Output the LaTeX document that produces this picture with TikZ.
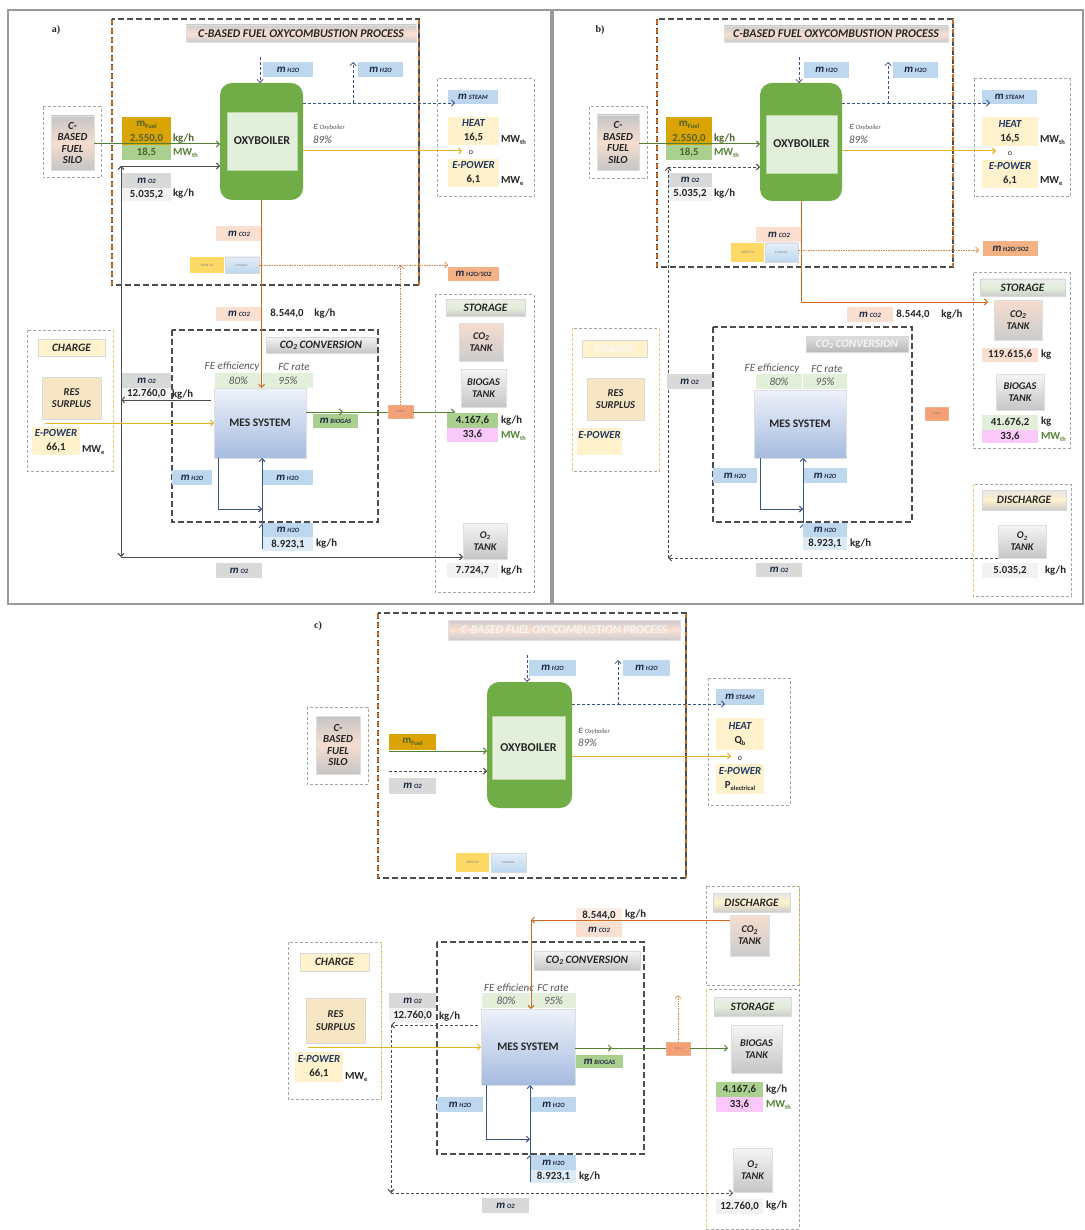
\documentclass[tikz,border=0pt]{standalone}
\usepackage{fontspec}
\setmainfont{Carlito}
\newfontfamily\serf{Liberation Serif}
\usetikzlibrary{arrows.meta}
\definecolor{bgreen}{HTML}{70AD47}
\definecolor{lgreen}{HTML}{E2EFDA}
\definecolor{vgreen}{HTML}{A9D08E}
\definecolor{lblue}{HTML}{BDD7EE}
\definecolor{llblue}{HTML}{DDEBF7}
\definecolor{gold}{HTML}{D9A404}
\definecolor{lgray}{HTML}{D9D9D9}
\definecolor{llgray}{HTML}{F2F2F2}
\definecolor{salm}{HTML}{FBE0D2}
\definecolor{orng}{HTML}{F4B183}
\definecolor{lyel}{HTML}{FFF2CC}
\definecolor{pnk}{HTML}{FBC8FB}
\definecolor{oarr}{HTML}{D2691E}
\definecolor{yarr}{HTML}{E6B422}
\definecolor{garr}{HTML}{548235}
\definecolor{barr}{HTML}{3B5488}
\definecolor{navy}{HTML}{1F3864}
\definecolor{ymem}{HTML}{FFD966}
\definecolor{olv}{HTML}{4F6228}
\definecolor{mtxt}{HTML}{1F2A44}
\definecolor{peach}{HTML}{F6DDCF}
\definecolor{resc}{HTML}{F7E6C4}
\definecolor{mestop}{HTML}{EEF2FA}
\definecolor{mesbot}{HTML}{A6BBE0}
\newcommand\bxx[7]{\node[#6,minimum width={(#4)-(#2)},minimum height={(#5)-(#3)}] (#1) at ({((#2)+(#4))/2},{((#3)+(#5))/2}) {#7};}
\newcommand\sbs[1]{\raisebox{-1.5pt}{\fontsize{6.5}{7}\selectfont #1}}
\newcommand\mlab[1]{{\color{mtxt}{\fontsize{11}{11}\selectfont\itshape m}\,{\fontsize{6.5}{7}\selectfont\itshape #1}}}
\newcommand\hd[1]{{\color{navy}\itshape #1}}
\newcommand\ctwo{CO\raisebox{-1.3pt}{\fontsize{7.5}{8}\selectfont 2}}
\begin{document}
\begin{tikzpicture}[x=1pt,y=-1pt,
 every node/.style={inner sep=0pt,outer sep=0pt,align=center,font=\fontsize{10.8}{12}\selectfont\bfseries,text=black!85},
 ar/.style={-{Straight Barb[length=3pt,width=6pt]}},
 frame/.style={draw=gray!80,line width=1.4pt},
 dbox/.style={draw=black!70,line width=1.1pt,dash pattern=on 6pt off 3pt},
 obox/.style={draw=oarr,line width=1.1pt,dash pattern=on 4pt off 5pt,dash phase=-1pt},
 gbox/.style={draw=gray!70,line width=1pt,dash pattern=on 3pt off 2pt},
 ydash/.style={draw=yarr!70,line width=0.8pt,dash pattern=on 3pt off 2pt},
 gline/.style={draw=gray!60!black,line width=0.9pt},
 gdash/.style={gline,dash pattern=on 3pt off 2pt},
 oline/.style={draw=oarr,line width=1pt},
 odot/.style={draw=oarr!80,line width=0.7pt,dash pattern=on 1.5pt off 1pt},
 yline/.style={draw=yarr,line width=1pt},
 grline/.style={draw=garr,line width=1pt},
 bline/.style={draw=barr,line width=1pt},
 sdash/.style={draw=barr,line width=0.8pt,dash pattern=on 3pt off 2pt},
 ttl/.style={top color=gray!40,bottom color=gray!40,middle color=salm,draw=gray!25,font=\fontsize{11.8}{13}\selectfont\bfseries\itshape},
 ttlf/.style={ttl,text=white!92!gray},
 boil/.style={fill=bgreen,rounded corners=12pt},
 binner/.style={fill=lgreen,draw=bgreen!50,font=\fontsize{12}{14}\selectfont\bfseries},
 lb/.style={fill=lblue},
 yb/.style={fill=lyel},
 silo/.style={top color=gray!45,bottom color=gray!45,middle color=peach,draw=gray!25,font=\fontsize{10.8}{11.6}\selectfont\bfseries\itshape},
 tank/.style={top color=gray!8,bottom color=gray!45,draw=gray!25,font=\fontsize{10.3}{12}\selectfont\bfseries\itshape},
 tankp/.style={top color=peach,bottom color=gray!40,draw=gray!25,font=\fontsize{10.3}{12}\selectfont\bfseries\itshape},
 mes/.style={top color=mestop,bottom color=mesbot,draw=gray!25,font=\fontsize{11.5}{13}\selectfont\bfseries},
 res/.style={fill=resc,draw=gray!30,font=\fontsize{10.5}{12.5}\selectfont\bfseries\itshape},
 chb/.style={fill=lyel,draw=gray!30,font=\fontsize{11.3}{12}\selectfont\bfseries\itshape},
 chbf/.style={chb,text=white!95!gray},
 sttl/.style={top color=gray!15,bottom color=gray!40,middle color=lgreen,draw=gray!30,font=\fontsize{11.3}{12}\selectfont\bfseries\itshape},
 dttl/.style={top color=gray!20,bottom color=gray!40,middle color=lyel,draw=gray!30,font=\fontsize{11.3}{12}\selectfont\bfseries\itshape},
 ctl/.style={top color=gray!8,bottom color=gray!45,draw=gray!30,font=\fontsize{11.3}{12}\selectfont\bfseries\itshape},
 ctlf/.style={ctl,top color=gray!25,bottom color=gray!55,text=white!92!gray},
 memb/.style={fill=ymem,font=\fontsize{3.5}{4}\selectfont,text=gray},
 conb/.style={top color=lblue!40,bottom color=lblue,draw=gray!30,font=\fontsize{3.5}{4}\selectfont,text=gray},
 desb/.style={fill=orng!90!red,draw=oarr!50,font=\fontsize{3}{3.5}\selectfont,text=gray},
 pct/.style={fill=lgreen,font=\fontsize{11}{12}\selectfont\itshape,text=gray!70!black},
 gi/.style={font=\fontsize{11}{12}\selectfont\itshape,text=gray!70!black},
 eps/.style={anchor=west,font=\fontsize{11}{12}\selectfont\itshape,text=gray!70!black},
 plab/.style={font=\serf\fontsize{10}{11}\selectfont\bfseries},
 small/.style={font=\fontsize{8}{9}\selectfont}
]
\useasboundingbox (0,0) rectangle (1084,1230);
\fill[white] (0,0) rectangle (1084,1230);

% ================= PANEL A =================
\draw[frame] (8,10) rectangle (551,604);
\node[plab] (pa) at (56,30) {a)};
\draw[dbox] (112,19) rectangle (419,285);
\draw[obox] (112,19) -- (112,285) (419,19) -- (419,285);
\bxx{tia}{186}{25}{416}{42}{ttl}{C-BASED FUEL OXYCOMBUSTION PROCESS}
\bxx{boa}{220}{83}{303}{200}{boil}{}
\bxx{bia}{227}{112}{297}{170}{binner}{OXYBOILER}
\bxx{hwa1}{263}{62}{313}{77}{lb}{\mlab{H2O}}
\bxx{hwa2}{358}{62}{403}{77}{lb}{\mlab{H2O}}
\coordinate (hina) at (260,57);
\draw[sdash,ar] (hina) -- (hina |- boa.north);
\coordinate (hsa) at (353,103);
\draw[sdash,ar] (boa.east |- hsa) -- (hsa) -- (hsa |- hwa2.north);
\draw[gbox] (437,79) rectangle (534,197);
\bxx{stma}{448}{90}{498}{104}{lb}{\mlab{STEAM}}
\coordinate (stea) at (455,103);
\draw[sdash,ar] (hsa) -- (stea);
\bxx{hta}{448}{117}{499}{145}{yb}{\hd{HEAT}\\[2pt]16,5}
\node[anchor=west] (mwa1) at (501,140) {MW\sbs{th}};
\node[small] (oa) at (471,153) {o};
\bxx{epa}{448}{159}{499}{187}{yb}{\hd{E-POWER}\\[2pt]6,1}
\node[anchor=west] (mwa2) at (501,181) {MW\sbs{e}};
\coordinate (yea) at (462,151);
\draw[yline,ar] (boa.east |- yea) -- (yea);
\node[eps] (epsa) at (313,127) {ε\,{\fontsize{6.5}{7}\selectfont Oxyboiler}};
\node[eps] (eta) at (313,140) {89\%};
\draw[gbox] (43,107) rectangle (101,178);
\bxx{sila}{51}{116}{94}{170}{silo}{C-\\BASED\\FUEL\\SILO}
\bxx{fua}{122}{117}{171}{145}{fill=gold}{}
\node[text=olv] (fuat) at (146.5,125) {\fontsize{11}{12}\selectfont m\sbs{Fuel}};
\node[text=olv] (fuav) at (146.5,139) {2.550,0};
\bxx{fub}{122}{145}{171}{160}{fill=vgreen}{\color{olv}18,5}
\node[anchor=west,text=olv] (kga1) at (173,139) {kg/h};
\node[anchor=west,text=garr] (mwa0) at (173,153) {MW\sbs{th}};
\coordinate (fya) at (100,144);
\draw[grline,ar] (sila.east |- fya) -- (boa.west |- fya);
\bxx{oxa1}{122}{173}{171}{188}{fill=lgray}{\mlab{O2}}
\bxx{oxa2}{122}{188}{171}{201}{fill=llgray}{5.035,2}
\node[anchor=west] (kga2) at (173,194) {kg/h};
\bxx{coa1}{216}{226}{262}{241}{fill=salm}{\mlab{CO2}}
\bxx{mema}{190}{257}{224}{273}{memb}{MEM O2}
\bxx{cona}{225}{257}{259}{273}{conb}{Condens.}
\bxx{hsoa}{448}{267}{499}{281}{fill=orng}{\mlab{H2O/SO2}}
\draw[odot,ar] (cona.east) -- (hsoa.west |- cona.east);
\bxx{coa2}{216}{307}{262}{321}{fill=salm}{\mlab{CO2}}
\node (vca) at (287,314) {8.544,0};
\node (kga3) at (325,314) {kg/h};
\draw[dbox] (172,330) rectangle (378,522);
\bxx{cca}{266}{337}{376}{353}{ctl}{\ctwo\ CONVERSION}
\node[gi] (fela) at (232,367) {FE efficiency};
\bxx{fea}{215}{373}{262}{388}{pct}{80\%}
\node[gi] (fcla) at (294,367) {FC rate};
\bxx{fca}{263}{373}{313}{388}{pct}{95\%}
\bxx{mesa}{214}{388}{306}{458}{mes}{MES SYSTEM}
\draw[oline,ar] (boa.south) -- (boa.south |- mesa.north);
\bxx{bga}{313}{414}{358}{428}{fill=vgreen}{\mlab{BIOGAS}}
\bxx{desa}{388}{405}{413}{418}{desb}{DeSOx}
\coordinate (bma) at (343,412);
\coordinate (bea) at (455,412);
\draw[grline,ar] (mesa.east |- bma) -- (bma);
\draw[grline] (bma) -- (desa.west |- bma);
\draw[grline,ar] (desa.east |- bea) -- (bea);
\draw[odot,ar] (desa.north) -- (desa.north |- cona.east);
\bxx{hwa3}{172}{470}{212}{485}{lb}{\mlab{H2O}}
\bxx{hwa4}{262}{470}{313}{485}{lb}{\mlab{H2O}}
\coordinate (hla) at (218,509);
\coordinate (hba) at (262,549);
\coordinate (hma) at (262,524);
\draw[bline,ar] (hla |- mesa.south) -- (hla) -- (hba |- hla);
\draw[bline,ar] (hba) -- (hma);
\draw[bline,ar] (hma) -- (hma |- mesa.south);
\bxx{hwa5}{263}{523}{313}{537}{lb}{\mlab{H2O}}
\bxx{hwa6}{263}{537}{313}{551}{fill=llblue}{8.923,1}
\node[anchor=west] (kga4) at (316,544) {kg/h};
\draw[gbox] (435,295) rectangle (534,592);
\bxx{sta}{446}{299}{525}{316}{sttl}{STORAGE}
\bxx{ctka}{459}{323}{503}{361}{tankp}{\ctwo\\TANK}
\bxx{btka}{461}{369}{506}{407}{tank}{BIOGAS\\TANK}
\bxx{v1a}{447}{413}{498}{428}{fill=vgreen}{4.167,6}
\node[anchor=west] (kga5) at (501,421) {kg/h};
\bxx{v2a}{447}{428}{498}{442}{fill=pnk}{33,6}
\node[anchor=west,text=garr] (mwa3) at (501,436) {MW\sbs{th}};
\bxx{otka}{463}{523}{507}{559}{tank}{O\sbs{2}\\TANK}
\bxx{v3a}{447}{563}{498}{578}{fill=llgray}{7.724,7}
\node[anchor=west] (kga6) at (501,571) {kg/h};
\bxx{oxa3}{122}{373}{171}{388}{fill=lgray}{\mlab{O2}}
\bxx{oxa4}{122}{388}{171}{400}{fill=llgray}{12.760,0}
\node[anchor=west] (kga7) at (172,395) {kg/h};
\coordinate (oja) at (121,400);
\coordinate (otpa) at (121,166);
\coordinate (obta) at (121,557);
\draw[gline,ar] ([xshift=-3pt]mesa.west |- oja) -- (oja);
\draw[gline,ar] (oja) -- (otpa);
\draw[gline,ar] (otpa) -- (boa.west |- otpa);
\draw[gline,ar] (oja) -- (obta);
\draw[gline,ar] (obta) -- (otka.west |- obta);
\bxx{oxa5}{216}{563}{262}{578}{fill=lgray}{\mlab{O2}}
\draw[gbox] (27,330) rectangle (113,471);
\draw[ydash] (113,330) -- (113,471);
\bxx{cha}{38}{339}{105}{356}{chb}{CHARGE}
\bxx{resa}{42}{377}{101}{419}{res}{RES\\SURPLUS}
\bxx{epca}{32}{427}{80}{455}{yb}{\hd{E-POWER}\\[2pt]66,1}
\node[anchor=west] (mwa4) at (82,450) {MW\sbs{e}};
\coordinate (ysa) at (45,423);
\draw[yline,ar] (ysa) -- (mesa.west |- ysa);

% ================= PANEL B =================
\draw[frame] (553,10) rectangle (1083,604);
\node[plab] (pb) at (600,30) {b)};
\draw[dbox] (657,19) rectangle (953,267);
\draw[obox] (657,19) -- (657,267) (953,19) -- (953,267);
\bxx{tib}{724}{26}{948}{42}{ttl}{C-BASED FUEL OXYCOMBUSTION PROCESS}
\bxx{bob}{760}{83}{842}{201}{boil}{}
\bxx{bib}{766}{115}{837}{173}{binner}{OXYBOILER}
\bxx{hwb1}{804}{62}{849}{78}{lb}{\mlab{H2O}}
\bxx{hwb2}{893}{62}{938}{78}{lb}{\mlab{H2O}}
\coordinate (hinb) at (799,57);
\draw[sdash,ar] (hinb) -- (hinb |- bob.north);
\coordinate (hsb) at (888,103);
\draw[sdash,ar] (bob.east |- hsb) -- (hsb) -- (hsb |- hwb2.north);
\draw[gbox] (974,79) rectangle (1070,197);
\bxx{stmb}{982}{90}{1037}{104}{lb}{\mlab{STEAM}}
\coordinate (steb) at (990,103);
\draw[sdash,ar] (hsb) -- (steb);
\bxx{htb}{982}{117}{1038}{146}{yb}{\hd{HEAT}\\[2pt]16,5}
\node[anchor=west] (mwb1) at (1040,140) {MW\sbs{th}};
\node[small] (ob) at (1010,154) {o};
\bxx{epb}{982}{160}{1038}{188}{yb}{\hd{E-POWER}\\[2pt]6,1}
\node[anchor=west] (mwb2) at (1040,181) {MW\sbs{e}};
\coordinate (yeb) at (996,151);
\draw[yline,ar] (bob.east |- yeb) -- (yeb);
\node[eps] (epsb) at (849,127) {ε\,{\fontsize{6.5}{7}\selectfont Oxyboiler}};
\node[eps] (etb) at (849,140) {89\%};
\draw[gbox] (589,107) rectangle (647,179);
\bxx{silb}{597}{115}{639}{170}{silo}{C-\\BASED\\FUEL\\SILO}
\bxx{fuba}{666}{117}{712}{145}{fill=gold}{}
\node[text=olv] (fubt) at (689,125) {\fontsize{11}{12}\selectfont m\sbs{Fuel}};
\node[text=olv] (fubv) at (689,139) {2.550,0};
\bxx{fubb}{666}{145}{712}{160}{fill=vgreen}{\color{olv}18,5}
\node[anchor=west,text=olv] (kgb1) at (714,139) {kg/h};
\node[anchor=west,text=garr] (mwb0) at (714,153) {MW\sbs{th}};
\coordinate (fyb) at (640,144);
\draw[grline,ar] (silb.east |- fyb) -- (bob.west |- fyb);
\bxx{oxb1}{668}{173}{712}{187}{fill=lgray}{\mlab{O2}}
\bxx{oxb2}{668}{187}{712}{201}{fill=llgray}{5.035,2}
\node[anchor=west] (kgb2) at (714,194) {kg/h};
\bxx{cob1}{756}{227}{802}{242}{fill=salm}{\mlab{CO2}}
\bxx{memb1}{731}{243}{764}{262}{memb}{MEM O2}
\bxx{conb1}{765}{243}{798}{262}{conb}{Condens.}
\bxx{hsob}{983}{241}{1038}{256}{fill=orng}{\mlab{H2O/SO2}}
\coordinate (oeb) at (979,250);
\draw[odot,ar] (conb1.east |- oeb) -- (oeb);
\coordinate (ocb) at (801,302);
\coordinate (oab) at (988,302);
\draw[oline,ar] (bob.south) -- (ocb) -- (oab);
\bxx{cob2}{847}{307}{893}{322}{fill=salm}{\mlab{CO2}}
\node (vcb) at (913,315) {8.544,0};
\node (kgb3) at (952,315) {kg/h};
\draw[dbox] (713,327) rectangle (912,522);
\bxx{ccb}{806}{336}{908}{352}{ctlf}{\ctwo\ CONVERSION}
\node[gi] (felb) at (772,369) {FE efficiency};
\bxx{feb}{756}{374}{802}{389}{pct}{80\%}
\node[gi] (fclb) at (827,369) {FC rate};
\bxx{fcb}{803}{374}{847}{389}{pct}{95\%}
\bxx{mesb}{754}{390}{846}{458}{mes}{MES SYSTEM}
\bxx{hwb3}{713}{468}{757}{483}{lb}{\mlab{H2O}}
\bxx{hwb4}{803}{468}{847}{483}{lb}{\mlab{H2O}}
\coordinate (hlb) at (760,509);
\coordinate (hbb) at (803,550);
\coordinate (hmb) at (803,524);
\draw[bline,ar] (hlb |- mesb.south) -- (hlb) -- (hbb |- hlb);
\draw[bline,ar] (hbb) -- (hmb);
\draw[bline,ar] (hmb) -- (hmb |- mesb.south);
\bxx{hwb5}{803}{523}{847}{537}{lb}{\mlab{H2O}}
\bxx{hwb6}{803}{537}{847}{550}{fill=llblue}{8.923,1}
\node[anchor=west] (kgb4) at (850,544) {kg/h};
\bxx{desb1}{925}{407}{948}{420}{desb}{DeSOx}
\draw[gbox] (973,273) rectangle (1070,448);
\bxx{stb}{980}{279}{1065}{296}{sttl}{STORAGE}
\bxx{ctkb}{994}{300}{1042}{340}{tankp}{\ctwo\\TANK}
\bxx{v0b}{982}{348}{1038}{362}{fill=salm}{119.615,6}
\node[anchor=west] (kgb5) at (1041,355) {kg};
\bxx{btkb}{996}{374}{1044}{410}{tank}{BIOGAS\\TANK}
\bxx{v1b}{982}{415}{1038}{430}{fill=lgreen}{41.676,2}
\node[anchor=west] (kgb6) at (1041,422) {kg};
\bxx{v2b}{982}{430}{1038}{443}{fill=pnk}{33,6}
\node[anchor=west,text=garr] (mwb3) at (1041,437) {MW\sbs{th}};
\draw[gbox] (973,484) rectangle (1071,596);
\draw[ydash] (973,484) -- (973,596);
\bxx{dib}{982}{490}{1066}{510}{dttl}{DISCHARGE}
\bxx{otkb}{998}{525}{1046}{558}{tank}{O\sbs{2}\\TANK}
\bxx{v3b}{982}{563}{1038}{578}{fill=llgray}{5.035,2}
\node[anchor=west] (kgb7) at (1045,571) {kg/h};
\coordinate (otpb) at (668,167);
\coordinate (obtb) at (668,558);
\draw[gdash,ar] (otpb) -- (bob.west |- otpb);
\draw[gdash,ar] (obtb) -- (otpb);
\draw[gdash,ar] (otkb.south west) -- (obtb);
\bxx{oxb3}{667}{374}{712}{389}{fill=lgray}{\mlab{O2}}
\bxx{oxb5}{756}{563}{802}{577}{fill=lgray}{\mlab{O2}}
\draw[gbox] (572,328) rectangle (659,471);
\draw[ydash] (572,328) -- (572,471) (659,328) -- (659,471);
\bxx{chbb}{582}{340}{647}{357}{chbf}{CHARGE}
\bxx{resb}{587}{378}{644}{420}{res}{RES\\SURPLUS}
\bxx{epcb}{577}{428}{622}{455}{yb}{\hd{E-POWER}\\[2pt]\phantom{6}}

% ================= PANEL C =================
\node[plab] (pc) at (318,626) {c)};
\draw[dbox] (378,613) rectangle (686,878);
\draw[obox] (378,613) -- (378,878) (686,613) -- (686,878);
\bxx{tic}{448}{620}{680}{640}{ttlf}{C-BASED FUEL OXYCOMBUSTION PROCESS}
\bxx{boc}{487}{682}{572}{808}{boil}{}
\bxx{bic}{492}{716}{565}{779}{binner}{OXYBOILER}
\bxx{hwc1}{529}{660}{576}{676}{lb}{\mlab{H2O}}
\bxx{hwc2}{623}{660}{670}{676}{lb}{\mlab{H2O}}
\coordinate (hinc) at (527,655);
\draw[sdash,ar] (hinc) -- (hinc |- boc.north);
\coordinate (hsc) at (618,704);
\draw[sdash,ar] (boc.east |- hsc) -- (hsc) -- (hsc |- hwc2.north);
\draw[gbox] (708,678) rectangle (790,805);
\bxx{stmc}{716}{689}{764}{705}{lb}{\mlab{STEAM}}
\coordinate (stec) at (725,704);
\draw[sdash,ar] (hsc) -- (stec);
\bxx{htc}{716}{718}{764}{750}{yb}{\hd{HEAT}\\[2pt]Q\sbs{b}}
\node[small] (occo) at (740,759) {o};
\bxx{epc}{716}{764}{764}{794}{yb}{\hd{E-POWER}\\[2pt]P\sbs{electrical}}
\coordinate (yec) at (731,756);
\draw[yline,ar] (boc.east |- yec) -- (yec);
\node[eps] (epsc) at (578,731) {ε\,{\fontsize{6.5}{7}\selectfont Oxyboiler}};
\node[eps] (etc) at (578,743) {89\%};
\draw[gbox] (307,707) rectangle (368,784);
\bxx{silc}{316}{716}{360}{774}{silo}{C-\\BASED\\FUEL\\SILO}
\bxx{fuc}{389}{734}{436}{750}{fill=gold}{\color{olv}\fontsize{11}{12}\selectfont m\sbs{Fuel}}
\coordinate (fsc) at (389,751);
\draw[grline,ar] (fsc) -- (boc.west |- fsc);
\coordinate (osc) at (389,771);
\draw[gdash,ar] (osc) -- (boc.west |- osc);
\bxx{oxc1}{389}{778}{436}{794}{fill=lgray}{\mlab{O2}}
\bxx{memc}{456}{853}{489}{872}{memb}{MEM O2}
\bxx{conc}{491}{853}{526}{872}{conb}{Condens.}
\draw[gbox] (706,886) rectangle (799,985);
\draw[ydash] (799,886) -- (799,985);
\bxx{dic}{713}{893}{790}{912}{dttl}{DISCHARGE}
\bxx{ctkc}{730}{915}{769}{956}{tankp}{\ctwo\\TANK}
\bxx{vcc}{576}{908}{622}{922}{fill=salm!60}{8.544,0}
\node[anchor=west] (kgc1) at (625,915) {kg/h};
\bxx{coc2}{576}{922}{622}{937}{fill=salm}{\mlab{CO2}}
\draw[dbox] (437,942) rectangle (644,1154);
\bxx{ccc}{534}{951}{640}{970}{ctl}{\ctwo\ CONVERSION}
\node[gi] (felc) at (509,988) {FE efficienc};
\node[gi] (fclc) at (553,988) {FC rate};
\bxx{fec}{482}{993}{530}{1008}{pct}{80\%}
\bxx{fcc}{531}{993}{576}{1008}{pct}{95\%}
\bxx{mesc}{481}{1009}{575}{1085}{mes}{MES SYSTEM}
\coordinate (occ) at (531,920);
\draw[oline,ar] (ctkc.west |- occ) -- (occ);
\draw[oline,ar] (occ) -- (occ |- mesc.north);
\bxx{bgc}{576}{1055}{623}{1068}{fill=vgreen}{\mlab{BIOGAS}}
\bxx{desc}{666}{1042}{690}{1055}{desb}{DeSOx}
\coordinate (bmc) at (612,1048);
\coordinate (bec) at (728,1048);
\draw[grline,ar] (mesc.east |- bmc) -- (bmc);
\draw[grline] (bmc) -- (desc.west |- bmc);
\draw[grline,ar] (desc.east |- bec) -- (bec);
\coordinate (dtc) at (678,995);
\draw[odot,ar] (desc.north) -- (dtc);
\bxx{hwc3}{437}{1097}{483}{1112}{lb}{\mlab{H2O}}
\bxx{hwc4}{531}{1097}{576}{1112}{lb}{\mlab{H2O}}
\coordinate (hlc) at (486,1139);
\coordinate (hbc) at (530,1182);
\coordinate (hmc) at (530,1155);
\draw[bline,ar] (hlc |- mesc.south) -- (hlc) -- (hbc |- hlc);
\draw[bline,ar] (hbc) -- (hmc);
\draw[bline,ar] (hmc) -- (hmc |- mesc.south);
\bxx{hwc5}{531}{1155}{576}{1170}{lb}{\mlab{H2O}}
\bxx{hwc6}{531}{1170}{576}{1183}{fill=llblue}{8.923,1}
\node[anchor=west] (kgc2) at (579,1177) {kg/h};
\bxx{oxc3}{389}{993}{436}{1008}{fill=lgray}{\mlab{O2}}
\bxx{oxc4}{389}{1008}{436}{1023}{fill=llgray}{12.760,0}
\node[anchor=west] (kgc3) at (439,1017) {kg/h};
\draw[gbox] (706,989) rectangle (799,1229);
\draw[ydash] (706,989) -- (706,1229);
\bxx{stc}{714}{997}{791}{1016}{sttl}{STORAGE}
\bxx{btkc}{731}{1025}{782}{1073}{tank}{BIOGAS\\TANK}
\bxx{v1c}{716}{1082}{763}{1097}{fill=vgreen}{4.167,6}
\node[anchor=west] (kgc4) at (766,1090) {kg/h};
\bxx{v2c}{716}{1097}{763}{1112}{fill=pnk}{33,6}
\node[anchor=west,text=garr] (mwc1) at (766,1105) {MW\sbs{th}};
\bxx{otkc}{733}{1148}{772}{1192}{tank}{O\sbs{2}\\TANK}
\bxx{v3c}{716}{1199}{763}{1214}{fill=llgray}{12.760,0}
\node[anchor=west] (kgc5) at (766,1206) {kg/h};
\coordinate (ojc) at (391,1025);
\coordinate (obtc) at (391,1193);
\draw[gdash,ar] ([xshift=-3pt]mesc.west |- ojc) -- (ojc);
\draw[gdash,ar] (ojc) -- (obtc);
\draw[gdash,ar] (obtc) -- (otkc.west |- obtc);
\bxx{oxc5}{482}{1198}{529}{1213}{fill=lgray}{\mlab{O2}}
\draw[gbox] (288,942) rectangle (381,1099);
\draw[ydash] (381,942) -- (381,1099);
\bxx{chc}{300}{953}{369}{971}{chb}{CHARGE}
\bxx{resc1}{306}{998}{365}{1043}{res}{RES\\SURPLUS}
\bxx{epcc}{295}{1052}{343}{1082}{yb}{\hd{E-POWER}\\[2pt]66,1}
\node[anchor=west] (mwc2) at (345,1077) {MW\sbs{e}};
\coordinate (ysc) at (308,1047);
\draw[yline,ar] (ysc) -- (mesc.west |- ysc);
\end{tikzpicture}
\end{document}
